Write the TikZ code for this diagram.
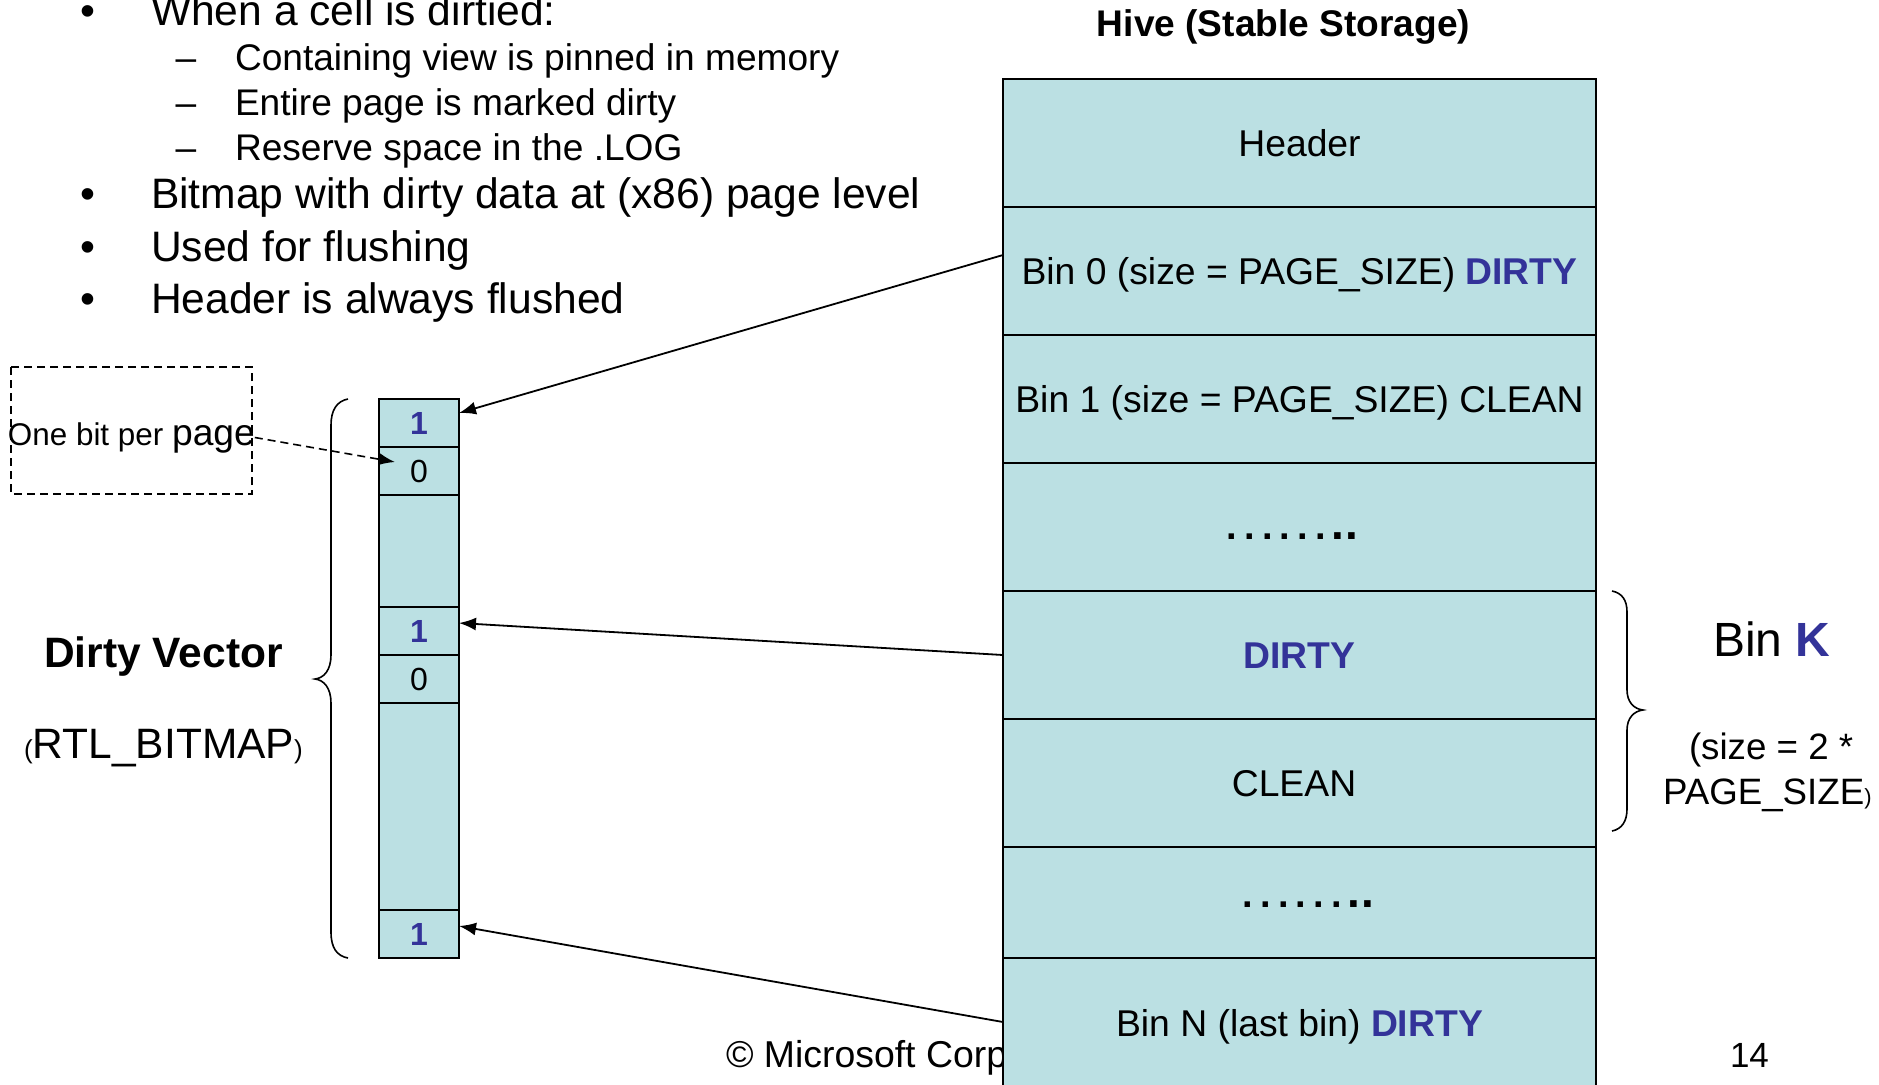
\documentclass[tikz,border=0pt]{standalone}
\usepackage{fontspec}
\setmainfont{Liberation Sans}
\usetikzlibrary{arrows.meta}
\definecolor{cellfill}{RGB}{187,224,227}
\definecolor{markblue}{RGB}{51,51,153}
\newcommand\pts[1]{\fontsize{#1pt}{#1pt}\selectfont}
\newcommand\hot[1]{\textcolor{markblue}{\bfseries #1}}
% row of elision dots, the last two a little heavier
\newcommand\dotrow{{\bfseries\pts{19}.\kern3.6pt.\kern3.6pt.\kern3.6pt.\kern3.6pt.\kern3.6pt.\kern2.6pt\pts{23}.\kern0.6pt.}}
\begin{document}
\begin{tikzpicture}[x=0.5pt,y=-0.5pt,
  lbl/.style={inner sep=0pt,outer sep=0pt,anchor=base},
  lblw/.style={inner sep=0pt,outer sep=0pt,anchor=base west},
  big/.style={font=\pts{21.3}},
  small/.style={font=\pts{18.55}},
  rowtxt/.style={lbl,font=\pts{18.65}},
  hiverow/.style={draw,fill=cellfill,line width=1pt,minimum width=296.5pt,inner sep=0pt,outer sep=0pt},
  bitcell/.style={draw,fill=cellfill,line width=1pt,minimum width=40pt,inner sep=0pt,outer sep=0pt,font=\pts{16}},
  link/.style={line width=0.9pt,-{Latex[length=8.5pt,width=6.5pt]}},
  brace/.style={line width=0.8pt}
]
\useasboundingbox (0,0) rectangle (1879,1084);
\clip (0,0) rectangle (1879,1084);

% bullet list
\node[lbl,big]  (bu1) at (88,25)  {•};
\node[lblw,big] (l1)  at (151,25) {When a cell is dirtied:};
\node[lbl,small]  (da1) at (186,70)  {–};
\node[lblw,small] (l2)  at (235,70)  {Containing view is pinned in memory};
\node[lbl,small]  (da2) at (186,115) {–};
\node[lblw,small] (l3)  at (235,115) {Entire page is marked dirty};
\node[lbl,small]  (da3) at (186,160) {–};
\node[lblw,small] (l4)  at (235,160) {Reserve space in the .LOG};
\node[lbl,big]  (bu2) at (88,208)  {•};
\node[lblw,big] (l5)  at (151,208) {Bitmap with dirty data at (x86) page level};
\node[lbl,big]  (bu3) at (88,261)  {•};
\node[lblw,big] (l6)  at (151,261) {Used for flushing};
\node[lbl,big]  (bu4) at (88,313)  {•};
\node[lblw,big] (l7)  at (151,313) {Header is always flushed};

% footer (partly covered by the hive column)
\node[lblw,font=\pts{18.7}] (copy) at (726,1067) {© Microsoft Corp};
\node[lblw,font=\pts{17.5}] (pgno) at (1730,1067) {14};

% hive column
\node[lbl,font=\pts{18.55}\bfseries] (title) at (1283.5,36) {Hive (Stable Storage)};
\node[hiverow,minimum height=64pt]   (hdr)   at (1299.5,143)   {};
\node[hiverow,minimum height=64pt]   (bin0)  at (1299.5,271)   {};
\node[hiverow,minimum height=64pt]   (bin1)  at (1299.5,399)   {};
\node[hiverow,minimum height=64pt]   (gapA)  at (1299.5,527)   {};
\node[hiverow,minimum height=64pt]   (binKa) at (1299.5,655)   {};
\node[hiverow,minimum height=64pt]   (binKb) at (1299.5,783)   {};
\node[hiverow,minimum height=55.5pt] (gapB)  at (1299.5,902.5) {};
\node[hiverow,minimum height=64pt]   (binN)  at (1299.5,1022)  {};

\node[rowtxt] (hdrT)  at (1299.5,156.5) {Header};
\node[rowtxt] (bin0T) at (1299.5,284.5) {Bin 0 (size = PAGE\_SIZE) \hot{DIRTY}};
\node[rowtxt] (bin1T) at (1299.5,412.5) {Bin 1 (size = PAGE\_SIZE) CLEAN};
\node[lblw] (dotsA) at (1226.7,539) {\dotrow};
\node[rowtxt] (binKaT) at (1299.5,668.5) {\hot{DIRTY}};
\node[rowtxt] (binKbT) at (1294,796.5) {CLEAN};
\node[lblw] (dotsB) at (1242.7,907) {\dotrow};
\node[rowtxt] (binNT) at (1299.5,1036) {Bin N (last bin) \hot{DIRTY}};

% dirty vector
\node[bitcell,minimum height=24pt]    (c1) at (419,423)   {\hot{1}};
\node[bitcell,minimum height=24pt]    (c2) at (419,471)   {0};
\node[bitcell,minimum height=56pt]    (c3) at (419,551)   {};
\node[bitcell,minimum height=24pt]    (c4) at (419,631)   {\hot{1}};
\node[bitcell,minimum height=24pt]    (c5) at (419,679)   {0};
\node[bitcell,minimum height=103.5pt] (c6) at (419,806.5) {};
\node[bitcell,minimum height=24pt]    (c7) at (419,934)   {\hot{1}};

% links from dirty bins to their bits
\draw[link] ([yshift=8pt]bin0.west) -- ([yshift=5pt]c1.east);
\draw[link] (binKa.west) -- ([yshift=4pt]c4.east);
\draw[link] (binN.west) -- ([yshift=4pt]c7.east);

% note box
\draw[line width=0.8pt,dash pattern=on 4pt off 2.5pt] (11,367) rectangle (252,494);
\node[lblw] (obp) at (8,445) {\pts{15.7}One bit per \pts{18.6}page};
\coordinate (obpTip) at (395,462);
\draw[line width=0.8pt,dash pattern=on 4pt off 2.5pt,-{Latex[length=8pt,width=6pt]}] (obp.east) -- (obpTip);

% left brace around the vector
\draw[brace] (348,399) .. controls (337,401) and (331,410) .. (331,425) -- (331,655)
  .. controls (331,670) and (324,678) .. (315,679) .. controls (324,680) and (331,688) .. (331,703)
  -- (331,932) .. controls (331,948) and (337,956) .. (348,958);
\node[lbl,font=\pts{21.25}\bfseries] (dv) at (163.5,667) {Dirty Vector};
\node[lbl] (rtl) at (163.5,758) {\pts{13}(\pts{21.25}RTL\_BITMAP\pts{13})};

% right brace around bin K
\draw[brace] (1612,591) .. controls (1622,593) and (1627,600) .. (1627,612) -- (1627,690)
  .. controls (1627,702) and (1634,709) .. (1643,710) .. controls (1634,711) and (1627,718) .. (1627,730)
  -- (1627,809) .. controls (1627,821) and (1622,829) .. (1612,831);
\node[lblw,font=\pts{24}] (binK) at (1713,656) {Bin \hot{K}};
\node[lblw,font=\pts{18.35}] (szA) at (1689,759) {(size = 2 *};
\node[lblw] (szB) at (1663,804) {\pts{18.35}PAGE\_SIZE\pts{11})};
\end{tikzpicture}
\end{document}
